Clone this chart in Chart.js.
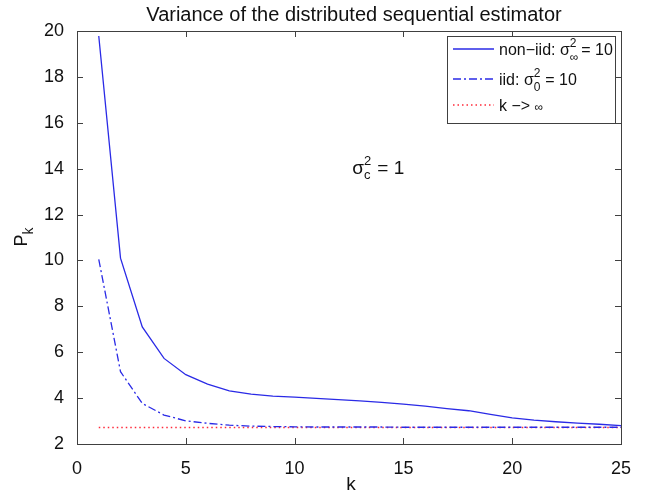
<!DOCTYPE html>
<html lang="en">
    <head>
        <meta charset="UTF-8" />
        <title>Variance of the distributed sequential estimator</title>
        <script src="https://cdn.jsdelivr.net/npm/chart.js"></script>
        <style>
            body { margin: 0; background: #fff; }
            #wrap { width: 658px; height: 494px; }
        </style>
    </head>
    <body>
        <div id="wrap"><canvas id="myChart"></canvas></div>

        <script>
            const kValues = [1, 2, 3, 4, 5, 6, 7, 8, 9, 10, 11, 12, 13, 14, 15, 16, 17, 18, 19, 20, 21, 22, 23, 24, 25];
            const nonIid = [19.78, 10.1, 7.1, 5.73, 5.02, 4.61, 4.32, 4.17, 4.09, 4.04, 3.99, 3.93, 3.88, 3.81, 3.74, 3.65, 3.54, 3.45, 3.29, 3.14, 3.04, 2.97, 2.91, 2.86, 2.8];
            const iid = [10.05, 5.15, 3.77, 3.26, 3.01, 2.9, 2.82, 2.78, 2.76, 2.75, 2.74, 2.74, 2.74, 2.74, 2.73, 2.73, 2.73, 2.73, 2.73, 2.73, 2.73, 2.73, 2.73, 2.73, 2.73];
            const limit = [2.72, 2.72, 2.72, 2.72, 2.72, 2.72, 2.72, 2.72, 2.72, 2.72, 2.72, 2.72, 2.72, 2.72, 2.72, 2.72, 2.72, 2.72, 2.72, 2.72, 2.72, 2.72, 2.72, 2.72, 2.72];
            const xTicks = [0, 5, 10, 15, 20, 25];
            const yTicks = [2, 4, 6, 8, 10, 12, 14, 16, 18, 20];

            const FONT = "'Liberation Sans', Arial, sans-serif";
            const AXIS = "#404040";

            const toPoints = (ys) => kValues.map((k, i) => ({ x: k, y: ys[i] }));

            // text with sub/superscripts: parts = [text, size, baseline shift]
            function drawRich(ctx, parts, x, y) {
                let cx = x;
                parts.forEach(([t, size, dy]) => {
                    ctx.font = size + "px " + FONT;
                    ctx.fillText(t, cx, y + dy);
                    cx += ctx.measureText(t).width;
                });
                return cx;
            }

            const decorations = {
                id: "decorations",
                afterDraw(chart) {
                    const ctx = chart.ctx;
                    const a = chart.chartArea;
                    const xs = chart.scales.x;
                    const ys = chart.scales.y;
                    ctx.save();

                    // box + inward ticks
                    ctx.strokeStyle = AXIS;
                    ctx.lineWidth = 1;
                    ctx.strokeRect(a.left + 0.5, a.top + 0.5, a.right - a.left, a.bottom - a.top);
                    ctx.beginPath();
                    xTicks.forEach((t) => {
                        const px = Math.round(xs.getPixelForValue(t)) + 0.5;
                        ctx.moveTo(px, a.bottom); ctx.lineTo(px, a.bottom - 6);
                        ctx.moveTo(px, a.top); ctx.lineTo(px, a.top + 6);
                    });
                    yTicks.forEach((t) => {
                        const py = Math.round(ys.getPixelForValue(t)) + 0.5;
                        ctx.moveTo(a.left, py); ctx.lineTo(a.left + 6, py);
                        ctx.moveTo(a.right, py); ctx.lineTo(a.right - 6, py);
                    });
                    ctx.stroke();

                    ctx.fillStyle = "#111";
                    ctx.textBaseline = "alphabetic";

                    // title
                    ctx.font = "20px " + FONT;
                    ctx.textAlign = "center";
                    ctx.fillText("Variance of the distributed sequential estimator", (a.left + a.right) / 2 + 5, 21);

                    // x title
                    ctx.font = "19px " + FONT;
                    ctx.fillText("k", (a.left + a.right) / 2 + 2, 490);

                    // y title P_k
                    ctx.save();
                    ctx.translate(27, (a.top + a.bottom) / 2 + 9);
                    ctx.rotate(-Math.PI / 2);
                    ctx.textAlign = "left";
                    drawRich(ctx, [["P", 18, 0], ["k", 14, 6]], 0, 0);
                    ctx.restore();

                    ctx.textAlign = "left";

                    // annotation sigma_c^2 = 1
                    const ax = xs.getPixelForValue(12.65);
                    const ay = ys.getPixelForValue(14.05) + 6;
                    ctx.font = "19px " + FONT;
                    ctx.fillText("σ", ax, ay);
                    const sw = ctx.measureText("σ").width;
                    ctx.font = "13px " + FONT;
                    ctx.fillText("2", ax + sw, ay - 9);
                    ctx.fillText("c", ax + sw, ay + 5);
                    drawRich(ctx, [[" = 1", 19, 0]], ax + sw + 8, ay);

                    // legend
                    const lx = 447, ly = 36, lw = 168, lh = 87;
                    ctx.fillStyle = "#fff";
                    ctx.fillRect(lx, ly, lw, lh);
                    ctx.strokeStyle = AXIS;
                    ctx.strokeRect(lx + 0.5, ly + 0.5, lw, lh);
                    const rows = [
                        { ds: chart.data.datasets[0], y: 55, sub: "∞", label: "non−iid: σ" },
                        { ds: chart.data.datasets[1], y: 85, sub: "0", label: "iid: σ" },
                        { ds: chart.data.datasets[2], y: 111, sub: null, label: "k −> " },
                    ];
                    rows.forEach((r) => {
                        ctx.strokeStyle = r.ds.borderColor;
                        ctx.lineWidth = r.ds.borderWidth;
                        ctx.setLineDash(r.ds.borderDash || []);
                        ctx.beginPath();
                        ctx.moveTo(453, r.y - 6);
                        ctx.lineTo(494, r.y - 6);
                        ctx.stroke();
                        ctx.setLineDash([]);
                        ctx.fillStyle = "#111";
                        ctx.font = "16px " + FONT;
                        ctx.fillText(r.label, 499, r.y);
                        let cx = 499 + ctx.measureText(r.label).width;
                        if (r.sub) {
                            ctx.font = "12px " + FONT;
                            ctx.fillText("2", cx, r.y - 8);
                            ctx.fillText(r.sub, cx, r.y + 6);
                            drawRich(ctx, [[" = 10", 16, 0]], cx + 7, r.y);
                        } else {
                            drawRich(ctx, [["∞", 12, 0]], cx, r.y);
                        }
                    });
                    ctx.restore();
                },
            };

            const ctx = document.getElementById("myChart").getContext("2d");
            const myChart = new Chart(ctx, {
                type: "line",
                data: {
                    datasets: [
                        {
                            label: "non-iid",
                            data: toPoints(nonIid),
                            borderColor: "#2a2ae6",
                            borderWidth: 1.3,
                            pointRadius: 0,
                            tension: 0,
                        },
                        {
                            label: "iid",
                            data: toPoints(iid),
                            borderColor: "#2a2ae6",
                            borderWidth: 1.3,
                            borderDash: [8, 3, 2, 3],
                            pointRadius: 0,
                            tension: 0,
                        },
                        {
                            label: "k -> inf",
                            data: toPoints(limit),
                            borderColor: "#ff2a3a",
                            borderWidth: 1.3,
                            borderDash: [1.5, 3],
                            pointRadius: 0,
                            tension: 0,
                        },
                    ],
                },
                options: {
                    responsive: true,
                    maintainAspectRatio: false,
                    animation: false,
                    layout: { padding: { top: 31, right: 37, left: 0, bottom: 0 } },
                    plugins: {
                        legend: { display: false },
                        title: { display: false },
                        tooltip: { enabled: false },
                    },
                    scales: {
                        x: {
                            type: "linear",
                            min: 0,
                            max: 25,
                            afterBuildTicks: (s) => { s.ticks = xTicks.map((v) => ({ value: v })); },
                            afterFit: (s) => { s.height = 50; },
                            grid: { display: false },
                            border: { display: false },
                            ticks: {
                                color: "#111",
                                padding: 6,
                                maxRotation: 0,
                                font: { family: FONT, size: 18 },
                            },
                        },
                        y: {
                            min: 2,
                            max: 20,
                            afterBuildTicks: (s) => { s.ticks = yTicks.map((v) => ({ value: v })); },
                            afterFit: (s) => { s.width = 77; },
                            grid: { display: false },
                            border: { display: false },
                            ticks: {
                                color: "#111",
                                padding: 5,
                                font: { family: FONT, size: 18 },
                            },
                        },
                    },
                },
                plugins: [decorations],
            });
        </script>
    </body>
</html>
